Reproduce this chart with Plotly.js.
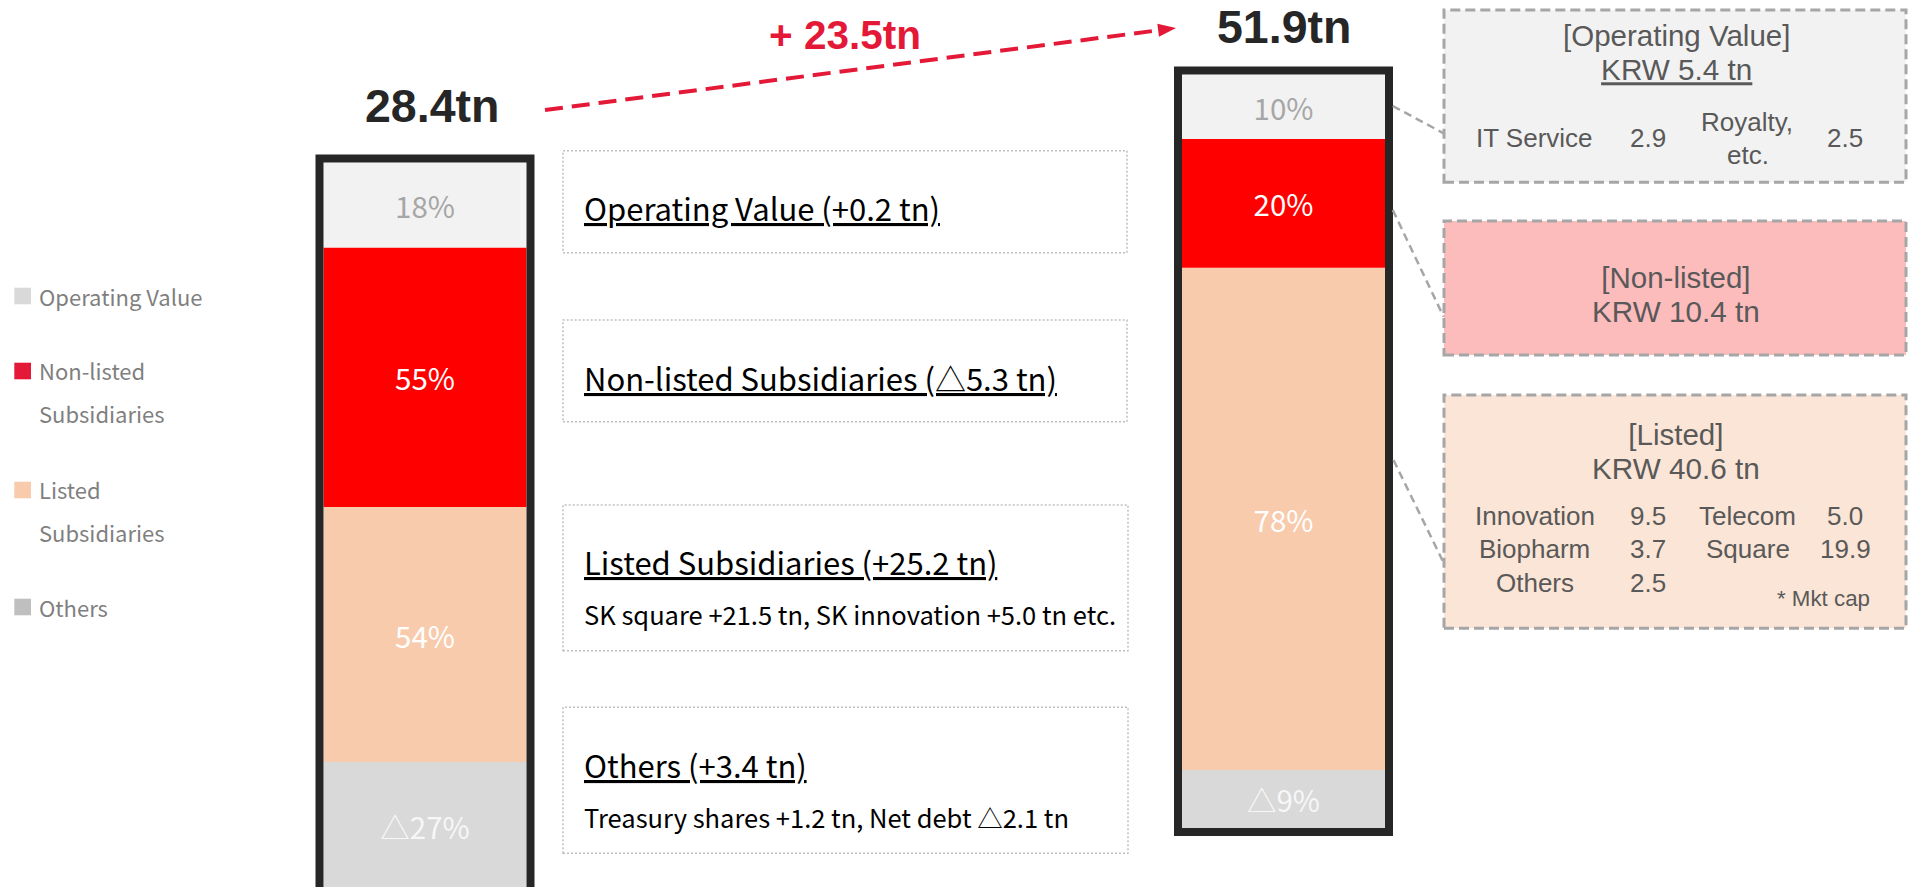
<!DOCTYPE html>
<html><head><meta charset="utf-8">
<script src="https://cdn.plot.ly/plotly-3.0.1.min.js"></script>
<style>html,body{margin:0;padding:0;background:#fff;overflow:hidden}#chart{width:1910px;height:887px}</style>
</head><body><div id="chart"></div>
<script>
// ---------------- data ----------------
const segments = ['Operating Value', 'Non-listed Subsidiaries', 'Listed Subsidiaries', 'Others'];
const shareBefore = [18, 55, 54, -27];
const shareAfter = [10, 20, 78, -9];
const labelsBefore = ['18%', '55%', '54%', '△27%'];
const labelsAfter = ['10%', '20%', '78%', '△9%'];
const totalLabels = ['28.4tn', '51.9tn'];
const growthLabel = '+ 23.5tn';
const legendLines = [['Operating Value'], ['Non-listed', 'Subsidiaries'], ['Listed', 'Subsidiaries'], ['Others']];
const changeHeads = ['Operating Value (+0.2 tn)', 'Non-listed Subsidiaries (△5.3 tn)', 'Listed Subsidiaries (+25.2 tn)', 'Others (+3.4 tn)'];
const changeDetails = ['', '', 'SK square +21.5 tn, SK innovation +5.0 tn etc.', 'Treasury shares +1.2 tn, Net debt △2.1 tn'];
const boxHeads = ['[Operating Value]', '[Non-listed]', '[Listed]'];
const boxValues = [5.4, 10.4, 40.6];
const opItems = ['IT Service', 'Royalty,', 'etc.'];
const opValues = [2.9, 2.5];
const listedItems = ['Innovation', 'Telecom', 'Biopharm', 'Square', 'Others'];
const listedValues = [9.5, 5.0, 3.7, 19.9, 2.5];
const listedNote = '* Mkt cap';

// ---------------- style ----------------
const W = 1910, H = 887;
const FONT = "'Noto Sans CJK KR', 'Noto Sans', sans-serif";
const LFONT = "'Liberation Sans', Arial, sans-serif";
const barColors = ['#f2f2f2', '#ff0000', '#f8cbad', '#d9d9d9'];
const barTextColors = ['#a6a6a6', '#ffffff', '#ffffff', '#f7f7f7'];
const legendColors = ['#d9d9d9', '#e31937', '#f8cbad', '#bfbfbf'];
const stackOrder = [2, 1, 0, 3];
const BW = 1.015;
const pxPerUnitX = 200;
const pxPerUnitY = [4.72, 6.44];
const zeroPx = [762, 770];
const px = x => x / W;
const py = y => 1 - y / H;

const traces = [];
[[shareBefore, labelsBefore], [shareAfter, labelsAfter]].forEach(([vals, labs], b) => {
  stackOrder.forEach(i => {
    traces.push({
      type: 'bar', x: [0], y: [vals[i]], width: [BW], name: segments[i],
      xaxis: b ? 'x2' : 'x', yaxis: b ? 'y2' : 'y',
      marker: {color: barColors[i], line: {width: 0}},
      text: [labs[i]], textposition: 'inside', insidetextanchor: 'middle', constraintext: 'none',
      textfont: {family: FONT, size: 29.5, color: barTextColors[i]},
      hoverinfo: 'skip', showlegend: false
    });
  });
});

const shapes = [];
const annotations = [];
function ann(text, x, y, o) {
  o = o || {};
  const size = o.size || 28;
  const a = {
    text: text, xref: 'paper', yref: 'paper', x: px(x), y: py(y),
    xanchor: o.xa || 'center', yanchor: 'middle', showarrow: false, borderpad: 0,
    font: {family: o.family || FONT, size: size, color: o.color || '#000000',
           weight: o.weight || 400, lineposition: o.under ? 'under' : 'none'}
  };
  if (!o.nat) { a.height = Math.round(size * 1.2); a.valign = 'bottom'; }
  annotations.push(a);
}
function rect(x0, y0, x1, y1, fill, lineColor, lw, dash) {
  shapes.push({type: 'rect', xref: 'paper', yref: 'paper', x0: px(x0), x1: px(x1), y0: py(y1), y1: py(y0),
    fillcolor: fill, line: {color: lineColor, width: lw, dash: dash}, layer: 'below'});
}
function seg(x0, y0, x1, y1, color, lw, dash) {
  shapes.push({type: 'line', xref: 'paper', yref: 'paper', x0: px(x0), y0: py(y0), x1: px(x1), y1: py(y1),
    line: {color: color, width: lw, dash: dash}, layer: 'above'});
}

// frames around the bars (derived from the data sums)
[shareBefore, shareAfter].forEach((vals, b) => {
  const pos = vals.filter(v => v > 0).reduce((a, c) => a + c, 0);
  const neg = vals.filter(v => v < 0).reduce((a, c) => a + c, 0);
  const padX = 4 / pxPerUnitX, padY = 4 / pxPerUnitY[b];
  shapes.push({type: 'rect', xref: b ? 'x2' : 'x', yref: b ? 'y2' : 'y',
    x0: -BW / 2 - padX, x1: BW / 2 + padX, y0: neg - padY, y1: pos + padY,
    fillcolor: 'rgba(0,0,0,0)', line: {color: '#262626', width: 8}, layer: 'above'});
});

// totals and growth arrow
ann(totalLabels[0], 432, 106.5, {size: 46.5, weight: 700, color: '#262626', family: LFONT, nat: true});
ann(totalLabels[1], 1284, 26.5, {size: 46.5, weight: 700, color: '#262626', family: LFONT, nat: true});
ann(growthLabel, 845, 34.5, {size: 40.5, weight: 700, color: '#e31937', family: LFONT, nat: true});
(function () {
  const s = [545, 110], t = [1176, 28];
  const dx = t[0] - s[0], dy = t[1] - s[1], L = Math.hypot(dx, dy);
  const u = [dx / L, dy / L], n = [-u[1], u[0]];
  const hl = 18, hw = 6.5;
  const b = [t[0] - hl * u[0], t[1] - hl * u[1]];
  seg(s[0], s[1], b[0], b[1], '#e31937', 4, '18px,9px');
  const c1 = [b[0] + hw * n[0], b[1] + hw * n[1]], c2 = [b[0] - hw * n[0], b[1] - hw * n[1]];
  shapes.push({type: 'path', xref: 'paper', yref: 'paper',
    path: `M ${px(t[0])} ${py(t[1])} L ${px(c1[0])} ${py(c1[1])} L ${px(c2[0])} ${py(c2[1])} Z`,
    fillcolor: '#e31937', line: {width: 0}, layer: 'above'});
})();

// legend
const legendY = [[298.5], [372.5, 416], [492, 535], [610]];
const legendSq = [296, 371, 490, 607];
legendLines.forEach((lines, i) => {
  const cy = legendSq[i];
  rect(14.3, cy - 8.3, 31, cy + 8.3, legendColors[i], legendColors[i], 0);
  lines.forEach((t, j) => ann(t, 38, legendY[i][j], {xa: 'left', size: 22, color: '#7f7f7f'}));
});

// middle change boxes
const midBoxes = [[563, 150.7, 1127, 252.7], [563, 320, 1127, 421.7], [563, 505, 1128, 650.7], [563, 707.3, 1128, 853.3]];
const headY = [211.6, 381.9, 565.3, 768.6];
const detailY = [0, 0, 616, 819];
midBoxes.forEach((r, i) => {
  rect(r[0], r[1], r[2], r[3], 'rgba(0,0,0,0)', '#bfbfbf', 1.5, '2px,2px');
  ann(changeHeads[i], 583, headY[i], {xa: 'left', size: 31, under: true});
  if (changeDetails[i]) ann(changeDetails[i], 583, detailY[i], {xa: 'left', size: 25.5});
});

// right detail boxes
const boxRects = [[1444, 10, 1906, 182.3], [1444, 221, 1906, 355], [1444, 395, 1906, 628.3]];
const boxFills = ['#f2f2f2', '#fcbcbc', '#fbe5d6'];
boxRects.forEach((r, i) => rect(r[0], r[1], r[2], r[3], boxFills[i], '#a6a6a6', 3, '10px,5px'));
const TXT = '#595959';
// two-line heading per box (one text element); base size sets the 1.3em line step
const headCapY = [35, 276.5, 433.5];
const HEAD1 = 29.5, HEAD2 = 29.7, LINESTEP = 34.3;
boxHeads.forEach((h, i) => {
  const deco = i === 0 ? ';text-decoration:underline' : '';
  const txt = `<span style="font-size:${HEAD1}px">${h}</span><br>` +
              `<span style="font-size:${HEAD2}px${deco}">KRW ${boxValues[i].toFixed(1)} tn</span>`;
  const boxCenter = headCapY[i] + 0.358 * HEAD1 + (LINESTEP + 0.212 * HEAD2 - 0.905 * HEAD1) / 2;
  annotations.push({
    text: txt, xref: 'paper', yref: 'paper', x: px(1676), y: py(boxCenter),
    xanchor: 'center', yanchor: 'middle', showarrow: false, borderpad: 0, align: 'center',
    font: {family: LFONT, size: LINESTEP / 1.3, color: TXT}
  });
});
const IT = {size: 26, color: TXT, family: LFONT, nat: true};
ann(opItems[0], 1534, 138.3, IT);
ann(opValues[0].toFixed(1), 1647.6, 138.3, IT);
ann(opItems[1], 1747, 121.7, IT);
ann(opItems[2], 1747.5, 155, IT);
ann(opValues[1].toFixed(1), 1845, 138.3, IT);
const colName = [1534.7, 1747.7], colVal = [1647.6, 1845.2], rowY = [516, 549.3, 582.7];
listedItems.forEach((it, k) => {
  const r = Math.floor(k / 2), c = k % 2;
  ann(it, colName[c], rowY[r], IT);
  ann(listedValues[k].toFixed(1), colVal[c], rowY[r], IT);
});
ann(listedNote, 1823.5, 598.3, {size: 22.3, color: TXT, family: LFONT, nat: true});

// connectors
seg(1392.8, 106, 1443.6, 133.3, '#a6a6a6', 2.5, '8px,5px');
seg(1392.8, 210, 1443.6, 316.7, '#a6a6a6', 2.5, '8px,5px');
seg(1393.5, 460, 1443.6, 562.7, '#a6a6a6', 2.5, '8px,5px');

const layout = {
  width: W, height: H, margin: {l: 0, r: 0, t: 0, b: 0, pad: 0},
  paper_bgcolor: '#ffffff', plot_bgcolor: 'rgba(0,0,0,0)',
  barmode: 'relative', showlegend: false,
  xaxis: {domain: [px(225), px(625)], range: [-1, 1], visible: false, fixedrange: true},
  yaxis: {domain: [0, 1], range: [-(H - zeroPx[0]) / pxPerUnitY[0], zeroPx[0] / pxPerUnitY[0]], visible: false, fixedrange: true},
  xaxis2: {domain: [px(1083.5), px(1483.5)], range: [-1, 1], visible: false, anchor: 'y2', fixedrange: true},
  yaxis2: {domain: [0, 1], range: [-(H - zeroPx[1]) / pxPerUnitY[1], zeroPx[1] / pxPerUnitY[1]], visible: false, anchor: 'x2', fixedrange: true},
  shapes: shapes, annotations: annotations
};
Plotly.newPlot('chart', traces, layout, {displayModeBar: false, staticPlot: true});
</script></body></html>
